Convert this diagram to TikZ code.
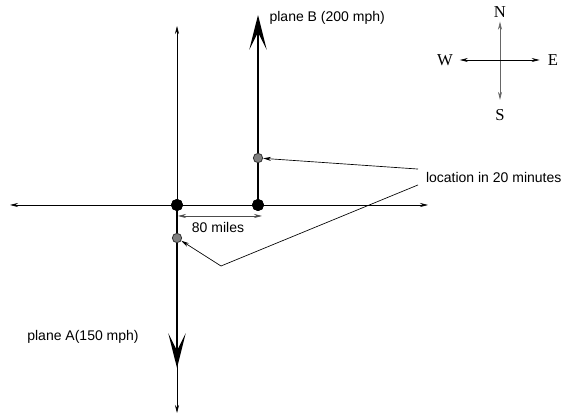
\documentclass[tikz,border=0pt]{standalone}
\usepackage{fontspec}
\setmainfont{Liberation Serif}
\setsansfont{Liberation Sans}
\usepackage{tikz}
\usetikzlibrary{arrows.meta,positioning}

\begin{document}
\begin{tikzpicture}[
  x=0.75pt, y=-0.75pt,
  lbl/.style={font=\sffamily\fontsize{10.5}{12}\selectfont, inner sep=1pt},
  dir/.style={font=\rmfamily\fontsize{12.5}{14}\selectfont, inner sep=0pt},
  axis/.style={{Stealth[length=6pt,width=3pt]}-{Stealth[length=6pt,width=3pt]}, line width=0.5pt},
  plane/.style={-{Stealth[length=26pt,width=13pt,inset=13pt]}, line width=2.2pt},
  bigdot/.style={circle, fill=black, draw=black, inner sep=0pt, minimum size=8.5pt},
  graydot/.style={circle, fill=gray, draw=black!80, line width=0.6pt, inner sep=0pt, minimum size=7pt},
  pointer/.style={-{Stealth[length=6pt,width=3pt]}, line width=0.5pt},
  dim/.style={{Stealth[length=6pt,width=3pt]}-{Stealth[length=6pt,width=3pt]}, line width=0.5pt, draw=black!70},
]
  \useasboundingbox (0,0) rectangle (565,417);

  % axes
  \coordinate (west) at (10,205);
  \coordinate (east) at (428,205);
  \coordinate (north) at (177,26);
  \coordinate (south) at (177,413);
  \draw[axis] (west) -- (east);
  \draw[axis] (south) -- (north);

  % the two planes
  \node[bigdot] (A) at (177,205) {};
  \node[bigdot] (B) at (258,205) {};
  \coordinate (Atip) at (177,368);
  \coordinate (Btip) at (258,15);
  \draw[plane] (A.center) -- (Atip);
  \draw[plane] (B.center) -- (Btip);
  \node[graydot] (A20) at (177,238) {};
  \node[graydot] (B20) at (258,158) {};
  \node[bigdot] at (A) {};
  \node[bigdot] at (B) {};

  \node[lbl, anchor=west] (labB) at (268,18) {plane B (200 mph)};
  \node[lbl] (labA) at (83,337) {plane A(150 mph)};

  % distance
  \coordinate (d1) at (178,216);
  \coordinate (d2) at (262,216);
  \draw[dim] (d1) -- (d2);
  \node[lbl] (miles) at (218,227) {80 miles};

  % where they are after 20 minutes
  \node[lbl, anchor=west, outer sep=5pt] (loc) at (418,177) {location in 20 minutes};
  \coordinate (bend) at (221,266);
  \draw[pointer] (loc.174) -- (B20);
  \draw[pointer] (loc.186) -- (bend) -- (A20);

  % compass
  \node[dir] (N) at (500,12) {N};
  \node[dir] (S) at (500,115) {S};
  \node[dir] (W) at (445,60) {W};
  \node[dir] (E) at (553,60) {E};
  \draw[axis, draw=black!60, shorten <=3pt, shorten >=7pt] (N) -- (S);
  \draw[axis, shorten <=5pt, shorten >=6pt] (W) -- (E);
\end{tikzpicture}
\end{document}
